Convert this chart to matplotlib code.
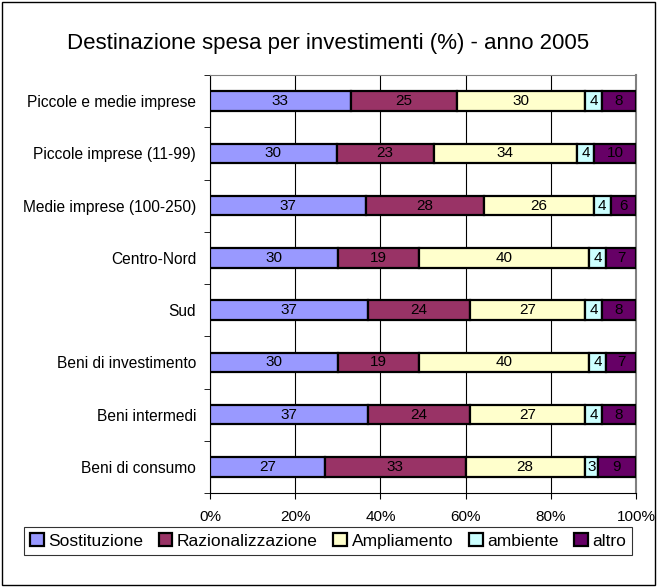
import numpy as np
import matplotlib
matplotlib.use("Agg")
from matplotlib import pyplot as plt
from matplotlib.patches import Rectangle

plt.rcParams['font.family'] = ['Liberation Sans', 'DejaVu Sans']

categories = ['Piccole e medie imprese', 'Piccole imprese (11-99)', 'Medie imprese (100-250)',
              'Centro-Nord', 'Sud', 'Beni di investimento', 'Beni intermedi', 'Beni di consumo']
series_names = ['Sostituzione', 'Razionalizzazione', 'Ampliamento', 'ambiente', 'altro']
sostituzione = [33, 30, 37, 30, 37, 30, 37, 27]
razionalizzazione = [25, 23, 28, 19, 24, 19, 24, 33]
ampliamento = [30, 34, 26, 40, 27, 40, 27, 28]
ambiente = [4, 4, 4, 4, 4, 4, 4, 3]
altro = [8, 10, 6, 7, 8, 7, 8, 9]
colors = ['#9999FF', '#993366', '#FFFFCC', '#CCFFFF', '#660066']

data = np.array([sostituzione, razionalizzazione, ampliamento, ambiente, altro], dtype=float)
shares = data / data.sum(axis=0) * 100

fig = plt.figure(figsize=(6.57, 5.87), dpi=100)
ax = fig.add_axes([210 / 657, 1 - 493 / 587, 426 / 657, 418 / 587])

y = np.arange(len(categories))[::-1]
left = np.zeros(len(categories))
for i, name in enumerate(series_names):
    ax.barh(y, shares[i], left=left, height=0.37, color=colors[i],
            edgecolor='black', linewidth=1.6, label=name, zorder=3)
    for yy, l, w, v in zip(y, left, shares[i], data[i]):
        ax.text(l + w / 2, yy, '%d' % v, ha='center', va='center', fontsize=11, zorder=4)
    left += shares[i]

ax.set_xlim(0, 100)
ax.set_ylim(-0.5, len(categories) - 0.5)
ax.set_xticks(np.arange(0, 101, 20))
ax.set_xticklabels(['%d%%' % v for v in range(0, 101, 20)], fontsize=11)
ax.set_yticks(y)
ax.set_yticklabels(categories, fontsize=11.2)
ax.set_yticks(np.arange(-0.5, len(categories), 1), minor=True)
ax.tick_params(axis='y', which='major', length=0, pad=10)
ax.tick_params(axis='y', which='minor', length=4, direction='out')
ax.tick_params(axis='x', length=4, direction='out', pad=8)
ax.xaxis.grid(True, color='black', linewidth=0.8, zorder=0)
ax.set_axisbelow(True)
ax.spines['top'].set_color('#808080')
ax.spines['right'].set_color('#808080')
ax.spines['right'].set_linewidth(1.5)

fig.text(0.5, 1 - 44 / 587, 'Destinazione spesa per investimenti (%) - anno 2005',
         ha='center', va='center', fontsize=16)

leg = fig.legend(loc='center', bbox_to_anchor=(328 / 657, 1 - 541 / 587), ncol=5,
                 fontsize=12.5, frameon=True, fancybox=False, edgecolor='black',
                 handlelength=0.8, handleheight=0.8, handletextpad=0.25,
                 columnspacing=0.9, borderpad=0.35)
leg.get_frame().set_linewidth(0.8)

fig.patches.append(Rectangle((2 / 657, 2 / 587), 653 / 657, 583 / 587, transform=fig.transFigure,
                             fill=False, edgecolor='black', linewidth=1))

fig.savefig('out.png', dpi=100)
